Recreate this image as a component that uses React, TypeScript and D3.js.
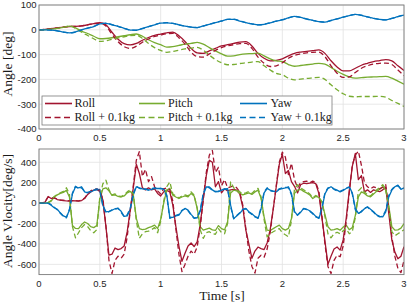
import React from 'react';
import * as d3 from 'd3';

const W = 407;
const H = 305;
const RED = '#a2142f';
const GREEN = '#77ac30';
const BLUE = '#0072bd';

// sample times (s)
const tAngle = d3.range(61).map((i) => i * 0.05);
const tRate = d3.range(121).map((i) => i * 0.025);

// angle [deg], every 0.05 s
const rollAngle = [
  0, 2, 5, 8, 11, 13, 14, 16, 20, 25,
  29, 20, -10, -38, -56, -61, -55, -42, -31, -22,
  -17, -12, -9, -24, -47, -75, -93, -95, -85, -75,
  -65, -60, -55, -50, -48, -65, -95, -115, -125, -123,
  -117, -105, -95, -90, -87, -84, -81, -95, -125, -150,
  -166, -166, -155, -143, -135, -128, -124, -120, -125, -145,
  -164,
];
const rollAngleLoad = [
  0, 2, 5, 8, 11, 13, 14, 16, 20, 24,
  27, 15, -18, -48, -68, -75, -66, -50, -37, -27,
  -21, -16, -14, -32, -58, -90, -108, -110, -97, -83,
  -72, -65, -60, -56, -55, -75, -110, -135, -148, -145,
  -133, -115, -103, -97, -93, -91, -90, -108, -145, -175,
  -192, -190, -172, -155, -145, -138, -135, -134, -140, -162,
  -185,
];
const pitchAngle = [
  0, 1, 3, 6, 10, 15, 8, -5, -15, -26,
  -36, -35, -32, -28, -24, -20, -17, -26, -40, -52,
  -60, -70, -68, -63, -58, -55, -51, -58, -72, -85,
  -97, -106, -105, -100, -97, -96, -94, -105, -117, -125,
  -128, -140, -147, -144, -141, -138, -135, -138, -152, -167,
  -180, -190, -195, -193, -191, -190, -189, -188, -195, -207,
  -219,
];
const pitchAngleLoad = [
  0, 1, 3, 6, 10, 15, 6, -10, -23, -36,
  -47, -44, -38, -33, -28, -23, -22, -35, -55, -72,
  -83, -91, -87, -82, -77, -74, -71, -82, -102, -120,
  -133, -141, -140, -136, -133, -130, -128, -145, -162, -176,
  -181, -195, -202, -199, -196, -194, -192, -200, -222, -242,
  -258, -268, -270, -269, -269, -269, -268, -272, -285, -297,
  -309,
];
const yawAngle = [
  0, 0, -1, -4, -9, -12, -8, 0, 7, 13,
  24, 26, 20, 14, 6, -1, -1, 6, 13, 20,
  27, 28, 26, 20, 15, 11, 9, 16, 22, 29,
  35, 42, 42, 35, 29, 24, 20, 22, 28, 35,
  40, 48, 54, 50, 43, 38, 33, 31, 38, 44,
  51, 57, 62, 58, 52, 46, 42, 40, 46, 53,
  59,
];
const yawAngleLoad = [
  0, 0, -1, -4, -9, -13, -9, 0, 7, 14,
  24, 27, 21, 14, 6, -1, -2, 5, 13, 20,
  27, 29, 26, 20, 15, 11, 9, 15, 22, 29,
  36, 42, 43, 36, 29, 24, 20, 22, 28, 35,
  41, 48, 54, 50, 44, 38, 33, 31, 37, 44,
  51, 57, 62, 59, 52, 46, 42, 40, 46, 53,
  60,
];

// angular velocity [deg/s], every 0.025 s
const rollRate = [
  0, 0, 10, 65, 45, 55, 35, 30, 25, 22, 20, 24, 22, 20, 25, 45,
  85, 110, 128, 134, 115, 30, -231, -510, -500, -440, -455, -445, -420, -280, -70, 150,
  380, 290, 150, 130, 150, 130, 140, 95, 70, 110, 125, 110, -20, -230, -420, -570,
  -490, -420, -391, -425, -380, -210, 40, 270, 420, 400, 160, 210, 100, 140, 120, 130,
  135, 128, 90, -40, -264, -400, -541, -470, -430, -445, -455, -390, -260, -60, 160, 380,
  480, 290, 320, 210, 165, 100, 180, 195, 190, 195, 200, 190, 95, -140, -370, -600,
  -520, -450, -430, -460, -360, -150, 120, 360, 486, 230, 270, 110, 130, 105, 130, 120,
  112, 130, 155, -100, -360, -480, -545, -520, -427,
];
const rollRateLoad = [
  0, 0, 15, 60, 50, 50, 40, 30, 28, 25, 22, 25, 25, 22, 28, 50,
  90, 120, 135, 140, 125, 40, -220, -560, -690, -560, -520, -540, -500, -330, -80, 170,
  420, 505, 260, 330, 210, 260, 160, 120, 90, 140, 150, 130, 20, -250, -500, -670,
  -600, -520, -470, -500, -430, -230, 30, 300, 470, 515, 300, 350, 170, 230, 150, 160,
  170, 150, 110, -20, -250, -470, -620, -685, -540, -510, -530, -450, -290, -60, 170, 400,
  500, 450, 280, 390, 230, 150, 200, 210, 215, 200, 215, 200, 120, -120, -400, -620,
  -690, -560, -510, -525, -420, -180, 100, 370, 470, 510, 370, 200, 160, 140, 160, 150,
  140, 155, 180, -60, -330, -520, -640, -680, -560,
];
const pitchRate = [
  0, 0, 0, 5, 20, 60, 80, 95, 105, 125, 60, -220, -248, -250, -210, -185,
  -200, -230, -240, -220, 40, 140, 150, 120, 75, 80, 65, 60, 70, 100, 115, 80,
  -150, -250, -260, -255, -240, -230, -215, -250, -160, 0, 127, 145, 78, 60, 45, 60,
  70, 62, 95, 70, -50, -230, -265, -255, -245, -262, -268, -220, -250, -262, -183, 100,
  127, 120, 95, 80, 90, 100, 85, 110, 127, 50, -134, -264, -268, -250, -231, -215,
  -250, -264, -248, -150, 95, 127, 135, 115, 100, 80, 45, 65, 55, 10, -110, -231,
  -264, -260, -250, -265, -235, -215, -260, -240, -120, 62, 110, 95, 70, 62, 90, 115,
  135, 160, 127, -30, -231, -264, -262, -245, -200,
];
const pitchRateLoad = [
  0, 0, 0, 5, 25, 65, 85, 100, 115, 150, 90, -230, -340, -290, -240, -210,
  -230, -270, -290, -260, 60, 190, 225, 130, 80, 90, 70, 65, 80, 110, 130, 90,
  -170, -345, -300, -280, -275, -260, -240, -290, -180, 20, 160, 208, 90, 70, 50, 70,
  80, 70, 110, 80, -50, -260, -345, -290, -280, -300, -305, -250, -290, -300, -200, 208,
  150, 130, 110, 90, 100, 115, 95, 125, 145, 60, -160, -330, -300, -280, -265, -250,
  -290, -310, -329, -170, 140, 180, 150, 130, 115, 90, 55, 75, 60, 15, -130, -300,
  -340, -300, -285, -300, -270, -250, -300, -280, -140, 120, 150, 110, 80, 70, 100, 130,
  150, 180, 140, -40, -280, -320, -300, -280, -260,
];
const yawRate = [
  0, 0, 0, 0, -20, -45, -60, -95, -125, -138, -70, 90, 160, 150, 160, 110,
  100, 110, 125, 130, 134, -20, -85, -80, -70, -55, -52, -80, -130, -125, -60, 80,
  160, 150, 140, 135, 127, 135, 145, 143, 143, 140, 80, -140, -140, -125, -117, -75,
  -52, -68, -110, -145, -145, -80, 80, 160, 158, 130, 110, 112, 127, 135, 143, -20,
  -150, -125, -100, -65, -52, -85, -105, -130, -150, -60, 100, 143, 127, 118, 110, 135,
  143, 150, 160, 95, -80, -120, -90, -52, -60, -75, -100, -130, -150, -60, 90, 143,
  160, 140, 127, 110, 125, 143, 160, 100, -52, -100, -85, -55, -36, -60, -85, -115,
  -130, -134, -85, 60, 127, 160, 176, 135, 150,
];
const yawRateLoad = [
  0, 0, 0, 0, -15, -40, -65, -100, -130, -145, -60, 100, 165, 140, 150, 115,
  105, 115, 130, 140, 125, -30, -95, -85, -65, -60, -50, -90, -135, -115, -50, 95,
  165, 145, 135, 140, 130, 140, 150, 140, 145, 135, 70, -150, -135, -120, -110, -70,
  -55, -75, -115, -150, -140, -70, 95, 165, 150, 125, 115, 118, 130, 140, 135, -35,
  -155, -120, -95, -60, -55, -90, -110, -135, -145, -45, 110, 150, 120, 115, 115, 140,
  150, 155, 150, 80, -95, -115, -85, -55, -65, -80, -105, -135, -145, -45, 100, 150,
  155, 135, 120, 115, 130, 150, 155, 90, -65, -105, -80, -50, -40, -65, -90, -120,
  -135, -128, -70, 75, 135, 165, 170, 140, 145,
];

const xTicks = [0, 0.5, 1, 1.5, 2, 2.5, 3];
const angleTicks = [100, 0, -100, -200, -300, -400];
const rateTicks = [400, 200, 0, -200, -400, -600];

const legendItems = [
  { label: 'Roll', color: RED, dash: false },
  { label: 'Pitch', color: GREEN, dash: false },
  { label: 'Yaw', color: BLUE, dash: false },
  { label: 'Roll + 0.1kg', color: RED, dash: true },
  { label: 'Pitch + 0.1kg', color: GREEN, dash: true },
  { label: 'Yaw + 0.1kg', color: BLUE, dash: true },
];

const X0 = 39;
const X1 = 404;
const AXIS = '#7a7a7a';
const GRID = '#e2e2e2';
const TICKFONT = '"Liberation Sans", Arial, sans-serif';
const SERIF = '"Liberation Serif", "Times New Roman", serif';
const DASH = '5,3';

type Series = { values: number[]; color: string; dash: boolean };

function Panel({
  id,
  top,
  bottom,
  domain,
  ticks,
  t,
  series,
  curve,
}: {
  id: string;
  top: number;
  bottom: number;
  domain: [number, number];
  ticks: number[];
  t: number[];
  series: Series[];
  curve: d3.CurveFactory;
}) {
  const x = d3.scaleLinear().domain([0, 3]).range([X0, X1]);
  const y = d3.scaleLinear().domain(domain).range([bottom, top]);

  const line = (vals: number[]) =>
    d3
      .line<number>()
      .x((_, i) => x(t[i]))
      .y((d) => y(d))
      .curve(curve)(vals) ?? '';

  return (
    <g>
      <defs>
        <clipPath id={id}>
          <rect x={X0} y={top} width={X1 - X0} height={bottom - top} />
        </clipPath>
      </defs>
      {xTicks.map((v) => (
        <line key={'gx' + v} x1={x(v)} x2={x(v)} y1={top} y2={bottom} stroke={GRID} strokeWidth={0.8} />
      ))}
      {ticks.map((v) => (
        <line key={'gy' + v} x1={X0} x2={X1} y1={y(v)} y2={y(v)} stroke={GRID} strokeWidth={0.8} />
      ))}
      <g clipPath={`url(#${id})`}>
        {series.map((s, i) => (
          <path
            key={i}
            d={line(s.values)}
            fill="none"
            stroke={s.color}
            strokeWidth={1.3}
            strokeDasharray={s.dash ? DASH : undefined}
            strokeLinejoin="round"
          />
        ))}
      </g>
      <rect x={X0} y={top} width={X1 - X0} height={bottom - top} fill="none" stroke={AXIS} strokeWidth={0.9} />
      {xTicks.map((v) => (
        <text
          key={'tx' + v}
          x={x(v)}
          y={bottom + 12}
          textAnchor="middle"
          fontFamily={TICKFONT}
          fontSize={9.5}
          fill="#262626"
        >
          {v}
        </text>
      ))}
      {ticks.map((v) => (
        <text
          key={'ty' + v}
          x={X0 - 2.5}
          y={y(v)}
          dy="0.35em"
          textAnchor="end"
          fontFamily={TICKFONT}
          fontSize={9.5}
          fill="#262626"
        >
          {v}
        </text>
      ))}
    </g>
  );
}

function Legend() {
  const cols = [
    { x1: 45, x2: 72, tx: 74.5 },
    { x1: 139, x2: 165, tx: 168 },
    { x1: 240, x2: 267, tx: 270.5 },
  ];
  const rows = [103.5, 117.5];
  return (
    <g>
      <rect x={42} y={96} width={290} height={29} fill="#fff" stroke={AXIS} strokeWidth={0.8} />
      {legendItems.map((d, i) => {
        const c = cols[i % 3];
        const r = rows[Math.floor(i / 3)];
        return (
          <g key={d.label}>
            <line
              x1={c.x1}
              x2={c.x2}
              y1={r}
              y2={r}
              stroke={d.color}
              strokeWidth={1.6}
              strokeDasharray={d.dash ? '6,3.5' : undefined}
            />
            <text x={c.tx} y={r} dy="0.33em" fontFamily={SERIF} fontSize={12} fill="#1a1a1a">
              {d.label}
            </text>
          </g>
        );
      })}
    </g>
  );
}

export default function App() {
  const angleSeries: Series[] = [
    { values: rollAngle, color: RED, dash: false },
    { values: pitchAngle, color: GREEN, dash: false },
    { values: yawAngle, color: BLUE, dash: false },
    { values: rollAngleLoad, color: RED, dash: true },
    { values: pitchAngleLoad, color: GREEN, dash: true },
    { values: yawAngleLoad, color: BLUE, dash: true },
  ];
  const rateSeries: Series[] = [
    { values: rollRate, color: RED, dash: false },
    { values: pitchRate, color: GREEN, dash: false },
    { values: yawRate, color: BLUE, dash: false },
    { values: rollRateLoad, color: RED, dash: true },
    { values: pitchRateLoad, color: GREEN, dash: true },
    { values: yawRateLoad, color: BLUE, dash: true },
  ];

  return (
    <svg
      width={W}
      height={H}
      style={{ position: 'absolute', left: 0, top: 0, background: '#fff' }}
    >
      <Panel
        id="clipAngle"
        top={5}
        bottom={129}
        domain={[-400, 100]}
        ticks={angleTicks}
        t={tAngle}
        series={angleSeries}
        curve={d3.curveMonotoneX}
      />
      <Legend />
      <Panel
        id="clipRate"
        top={149}
        bottom={274.6}
        domain={[-700, 530]}
        ticks={rateTicks}
        t={tRate}
        series={rateSeries}
        curve={d3.curveLinear}
      />
      <text
        transform="translate(11.5,64) rotate(-90)"
        textAnchor="middle"
        fontFamily={SERIF}
        fontSize={13.5}
        fill="#1a1a1a"
      >
        Angle [deg]
      </text>
      <text
        transform="translate(11.5,211) rotate(-90)"
        textAnchor="middle"
        fontFamily={SERIF}
        fontSize={13.5}
        fill="#1a1a1a"
      >
        Angle Vlocity[deg/s]
      </text>
      <text x={222} y={300} textAnchor="middle" fontFamily={SERIF} fontSize={13.5} fill="#1a1a1a">
        Time [s]
      </text>
    </svg>
  );
}
